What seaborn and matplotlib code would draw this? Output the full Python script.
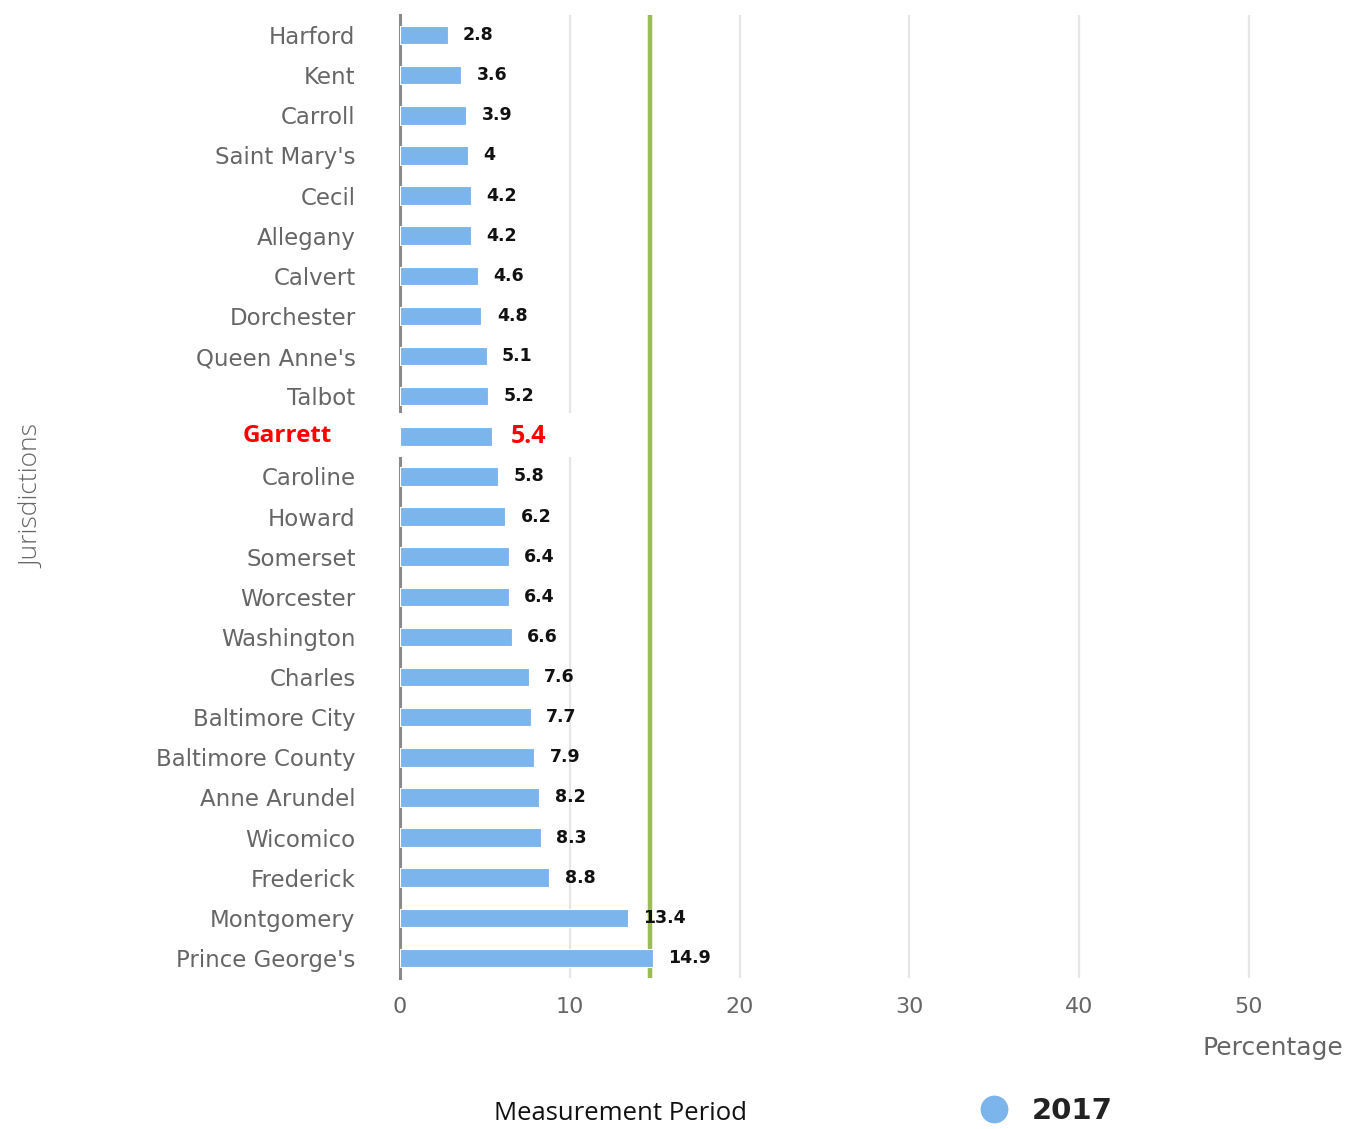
import matplotlib
matplotlib.use("Agg")
import matplotlib.pyplot as plt
from matplotlib.lines import Line2D
from matplotlib.patches import Rectangle
import seaborn as sns
import pandas as pd

jurisdictions = [
    "Harford", "Kent", "Carroll", "Saint Mary's", "Cecil", "Allegany",
    "Calvert", "Dorchester", "Queen Anne's", "Talbot", "Garrett", "Caroline",
    "Howard", "Somerset", "Worcester", "Washington", "Charles",
    "Baltimore City", "Baltimore County", "Anne Arundel", "Wicomico",
    "Frederick", "Montgomery", "Prince George's",
]
values_2017 = [
    2.8, 3.6, 3.9, 4.0, 4.2, 4.2, 4.6, 4.8, 5.1, 5.2, 5.4, 5.8,
    6.2, 6.4, 6.4, 6.6, 7.6, 7.7, 7.9, 8.2, 8.3, 8.8, 13.4, 14.9,
]
x_ticks = [0, 10, 20, 30, 40, 50]
reference_value = 14.7
highlight = "Garrett"

df = pd.DataFrame({"Jurisdiction": jurisdictions, "Percentage": values_2017})

bar_color = "#7cb5ec"
label_gray = "#666666"
grid_gray = "#e6e6e6"

sns.set_style("white")
plt.rcParams["font.family"] = ["DejaVu Sans"]

fig = plt.figure(figsize=(13.48, 11.29), dpi=100)
ax = fig.add_axes([400 / 1348, 1 - 978 / 1129, (1344 - 400) / 1348, (978 - 15) / 1129])

sns.barplot(data=df, y="Jurisdiction", x="Percentage", orient="h",
            color=bar_color, saturation=1, width=0.46, ax=ax,
            edgecolor="white", linewidth=0.8, zorder=3)

ax.set_xlim(0, 55.6)
ax.set_ylim(len(jurisdictions) - 0.5, -0.5)

# vertical grid lines
for t in x_ticks[1:]:
    ax.axvline(t, color=grid_gray, lw=1.6, zorder=0.5)

# left axis line
for s in ["top", "right", "bottom"]:
    ax.spines[s].set_visible(False)
ax.spines["left"].set_color("#8a8a8a")
ax.spines["left"].set_linewidth(2.2)
ax.spines["left"].set_zorder(2)

# reference line
ax.axvline(reference_value, color="#9bbb59", lw=3.2, zorder=2.8)

# x ticks
ax.set_xticks(x_ticks)
ax.set_xticklabels([str(t) for t in x_ticks], fontsize=16, color=label_gray)
ax.tick_params(axis="x", length=0, pad=14)

# y ticks
ax.set_yticks(range(len(jurisdictions)))
ax.set_yticklabels([j if j != highlight else "" for j in jurisdictions],
                   fontsize=16.5, color=label_gray)
ax.tick_params(axis="y", length=0, pad=32)

ax.set_xlabel("")
ax.set_ylabel("")

hi = jurisdictions.index(highlight)

# white band behind the highlighted row
ax.add_patch(Rectangle((-9.6, hi - 0.58), 19.9, 1.1, facecolor="white",
                       edgecolor="none", zorder=2.9, clip_on=False))

# value labels
for i, v in enumerate(values_2017):
    txt = f"{v:g}"
    if i == hi:
        ax.annotate(txt, xy=(v, i), xytext=(14, 0), textcoords="offset points",
                    ha="left", va="center", fontsize=18, fontweight="bold",
                    color="#ff0000", family="Open Sans", zorder=5)
    else:
        ax.annotate(txt, xy=(v, i), xytext=(11, 0), textcoords="offset points",
                    ha="left", va="center", fontsize=12.5, fontweight="bold",
                    color="#111111", zorder=5)

# highlighted jurisdiction label
ax.text(-4.0, hi, highlight, ha="right", va="center", fontsize=17.5,
        fontweight="bold", color="#ff0000", family="Open Sans", zorder=5,
        clip_on=False)

# axis titles
fig.text(1343 / 1348, 1 - 1048 / 1129, "Percentage", ha="right", va="center",
         fontsize=18, color=label_gray)
fig.text(33 / 1348, 1 - 497 / 1129, "Jurisdictions", ha="center", va="center",
         rotation=90, fontsize=19, color=label_gray, family="Open Sans",
         fontweight="light")

# legend
fig.text(621 / 1348, 1 - 1113 / 1129, "Measurement Period", ha="center",
         va="center", fontsize=18.5, color="#111111", family="Open Sans")
handle = Line2D([], [], marker="o", linestyle="none", markersize=19,
                markerfacecolor=bar_color, markeredgecolor=bar_color)
fig.legend([handle], ["2017"], loc="center", bbox_to_anchor=(1046 / 1348, 1 - 1111 / 1129),
           frameon=False, prop={"size": 21, "weight": "bold"}, labelcolor="#222222",
           handletextpad=0.8, handlelength=1.0, borderpad=0.2)

fig.savefig("out.png", dpi=100)
